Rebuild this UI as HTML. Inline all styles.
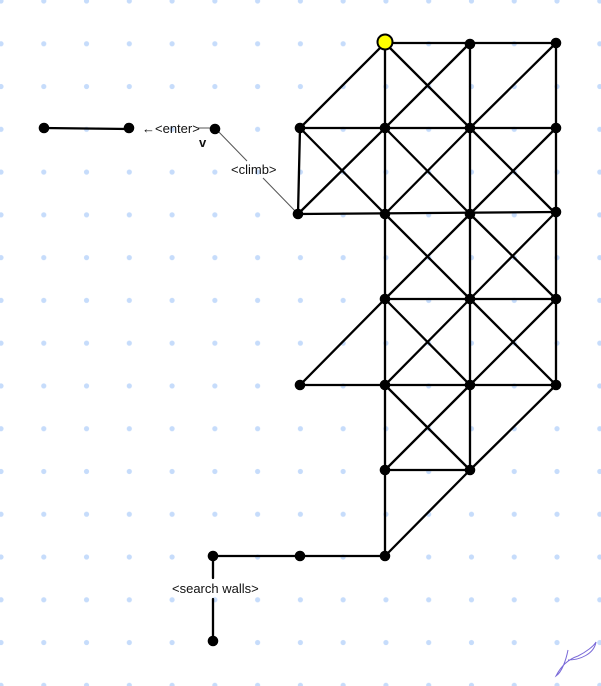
<!DOCTYPE html>
<html><head><meta charset="utf-8"><style>
html,body{margin:0;padding:0;background:#fff;}
svg{display:block;}
</style></head><body>
<svg width="601" height="686" xmlns="http://www.w3.org/2000/svg">
<defs>
<pattern id="dots" x="1" y="1" width="42.77" height="42.77" patternUnits="userSpaceOnUse">
<circle cx="0" cy="0" r="2.6" fill="#c6dcfb"/><circle cx="42.77" cy="0" r="2.6" fill="#c6dcfb"/><circle cx="0" cy="42.77" r="2.6" fill="#c6dcfb"/><circle cx="42.77" cy="42.77" r="2.6" fill="#c6dcfb"/>
</pattern>
</defs>
<rect x="0" y="0" width="601" height="686" fill="url(#dots)"/>
<g stroke="#000" stroke-width="2.3" stroke-linecap="round" fill="none">
<line x1="385" y1="43" x2="556" y2="43"/>
<line x1="385" y1="43" x2="385" y2="128"/>
<line x1="470" y1="43" x2="470" y2="128"/>
<line x1="556" y1="43" x2="556" y2="128"/>
<line x1="385" y1="43" x2="300" y2="128"/>
<line x1="385" y1="43" x2="470" y2="128"/>
<line x1="470" y1="43" x2="385" y2="128"/>
<line x1="556" y1="43" x2="470" y2="128"/>
<line x1="300" y1="128" x2="556" y2="128"/>
<line x1="300" y1="128" x2="298" y2="214"/>
<line x1="385" y1="128" x2="385" y2="214"/>
<line x1="470" y1="128" x2="470" y2="214"/>
<line x1="556" y1="128" x2="556" y2="214"/>
<line x1="300" y1="128" x2="385" y2="214"/><line x1="385" y1="128" x2="298" y2="214"/>
<line x1="385" y1="128" x2="470" y2="214"/><line x1="470" y1="128" x2="385" y2="214"/>
<line x1="470" y1="128" x2="556" y2="214"/><line x1="556" y1="128" x2="470" y2="214"/>
<line x1="298" y1="214" x2="556" y2="212"/>
<line x1="385" y1="214" x2="385" y2="299"/>
<line x1="470" y1="214" x2="470" y2="299"/>
<line x1="556" y1="212" x2="556" y2="299"/>
<line x1="385" y1="214" x2="470" y2="299"/><line x1="470" y1="214" x2="385" y2="299"/>
<line x1="470" y1="214" x2="556" y2="299"/><line x1="556" y1="212" x2="470" y2="299"/>
<line x1="385" y1="299" x2="556" y2="299"/>
<line x1="385" y1="299" x2="385" y2="385"/>
<line x1="470" y1="299" x2="470" y2="385"/>
<line x1="556" y1="299" x2="556" y2="385"/>
<line x1="385" y1="299" x2="300" y2="385"/>
<line x1="385" y1="299" x2="470" y2="385"/><line x1="470" y1="299" x2="385" y2="385"/>
<line x1="470" y1="299" x2="556" y2="385"/><line x1="556" y1="299" x2="470" y2="385"/>
<line x1="300" y1="385" x2="556" y2="385"/>
<line x1="385" y1="385" x2="385" y2="470"/>
<line x1="470" y1="385" x2="470" y2="470"/>
<line x1="385" y1="385" x2="470" y2="470"/><line x1="470" y1="385" x2="385" y2="470"/>
<line x1="556" y1="385" x2="470" y2="470"/>
<line x1="385" y1="470" x2="470" y2="470"/>
<line x1="385" y1="470" x2="385" y2="556"/>
<line x1="470" y1="470" x2="385" y2="556"/>
<line x1="213" y1="556" x2="385" y2="556"/>
<line x1="213" y1="556" x2="213" y2="578"/>
<line x1="213" y1="599" x2="213" y2="641"/>
<line x1="44" y1="128" x2="129" y2="129"/>
</g>
<g stroke="#555" stroke-width="1" fill="none">
<line x1="198" y1="128" x2="215" y2="128"/>
<line x1="215" y1="128" x2="247" y2="161"/>
<line x1="263" y1="178" x2="298" y2="214"/>
</g>
<g fill="#000">
<circle cx="470" cy="44" r="5.3"/><circle cx="556" cy="43" r="5.3"/>
<circle cx="300" cy="128" r="5.3"/><circle cx="385" cy="128" r="5.3"/><circle cx="470" cy="128" r="5.3"/><circle cx="556" cy="128" r="5.3"/>
<circle cx="298" cy="214" r="5.3"/><circle cx="385" cy="214" r="5.3"/><circle cx="470" cy="214" r="5.3"/><circle cx="556" cy="212" r="5.3"/>
<circle cx="385" cy="299" r="5.3"/><circle cx="470" cy="299" r="5.3"/><circle cx="556" cy="299" r="5.3"/>
<circle cx="300" cy="385" r="5.3"/><circle cx="385" cy="385" r="5.3"/><circle cx="470" cy="385" r="5.3"/><circle cx="556" cy="385" r="5.3"/>
<circle cx="385" cy="470" r="5.3"/><circle cx="470" cy="470" r="5.3"/>
<circle cx="213" cy="556" r="5.3"/><circle cx="300" cy="556" r="5.3"/><circle cx="385" cy="556" r="5.3"/>
<circle cx="213" cy="641" r="5.3"/>
<circle cx="44" cy="128" r="5.3"/><circle cx="129" cy="128" r="5.3"/><circle cx="215" cy="129" r="5.3"/>
</g>
<circle cx="385" cy="42" r="7.5" fill="#ffff00" stroke="#000" stroke-width="2"/>
<g font-family="Liberation Sans, sans-serif" font-size="13" fill="#111">
<text x="142" y="133">&#8592;&lt;enter&gt;</text>
<text x="231" y="174">&lt;climb&gt;</text>
<text x="172" y="593">&lt;search walls&gt;</text>
<text x="199" y="147" font-weight="bold" font-size="13">v</text>
</g>
<path d="M568 650 C566 660 562 672 556 676 C560 668 566 660 578 656 C586 652 594 646 596 642 C594 654 580 660 568 660" stroke="#7a6ad8" stroke-width="1" fill="none"/>
</svg>
</body></html>
